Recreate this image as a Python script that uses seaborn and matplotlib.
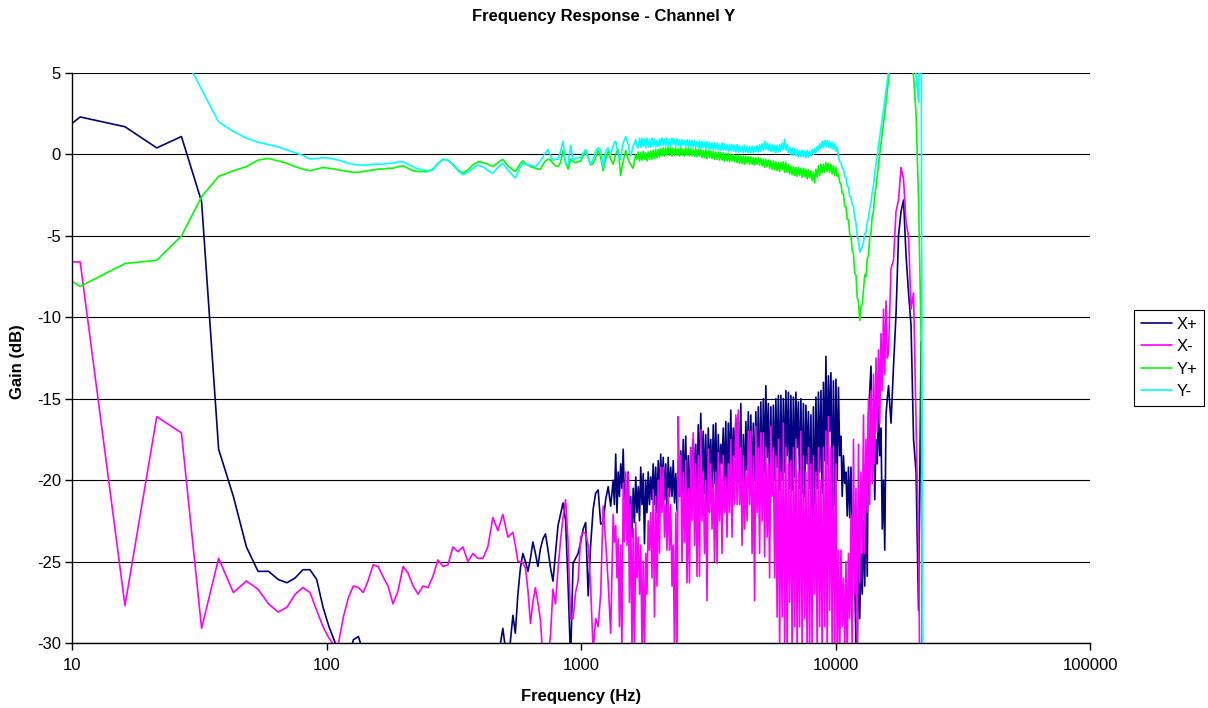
import numpy as np
import pandas as pd
import matplotlib
matplotlib.use("Agg")
import matplotlib.pyplot as plt
import seaborn as sns
from matplotlib.ticker import NullLocator

# ---------------- data ----------------
# frequency samples (Hz)
FREQ_BINS = [5.38, 10.77, 16.15, 21.53, 26.92, 32.30, 37.68, 43.06, 48.45, 53.83,
             59.21, 64.60, 69.98, 75.36, 80.75, 86.13, 91.51, 96.89, 102.28, 107.66]
FREQ_LOW = [111.5, 116.5, 122, 127.5, 133.5, 139.5, 145.5, 152.5, 159.5, 166.5,
            174.5, 182.5, 191, 200, 209, 219, 229, 239.5, 250.5, 262,
            274, 287, 300, 314, 328.5, 343.5, 359.5, 376, 393.5, 411.5,
            430.5, 450.5, 471.5, 493, 516]
FREQ_MID = [540, 552, 565, 578, 591, 605, 619, 633, 647, 662,
            677, 693, 709, 725, 742, 759, 776, 794, 812, 831,
            850, 870, 890, 910, 931, 952, 974, 997, 1020, 1043,
            1067, 1091, 1116, 1142, 1168, 1195, 1222, 1250, 1279, 1308]
FREQ_DENSE = [1338, 1353, 1369, 1385, 1400, 1416, 1432, 1448, 1465, 1482,
              1499, 1516, 1533, 1550, 1568, 1586, 1604, 1622, 1641, 1660,
              1679, 1698, 1717, 1737, 1756, 1776, 1796, 1816, 1837, 1858,
              1879, 1900, 1922, 1944, 1966, 1988, 2011, 2034, 2057, 2080,
              2104, 2128, 2152, 2177, 2201, 2226, 2252, 2278, 2304, 2330,
              2357, 2384, 2411, 2438, 2466, 2494, 2522, 2551, 2580, 2609,
              2639, 2669, 2699, 2730, 2761, 2792, 2824, 2856, 2889, 2922,
              2955, 2989, 3023, 3057, 3092, 3127, 3163, 3199, 3235, 3272,
              3309, 3347, 3385, 3424, 3463, 3502, 3542, 3582, 3623, 3664,
              3706, 3748, 3791, 3834, 3878, 3922, 3967, 4012, 4058, 4104,
              4151, 4198, 4246, 4294, 4343, 4393, 4443, 4494, 4545, 4597,
              4649, 4702, 4755, 4809, 4864, 4919, 4975, 5032, 5089, 5147,
              5206, 5265, 5325, 5386, 5447, 5509, 5572, 5636, 5700, 5765,
              5830, 5896, 5964, 6032, 6100, 6170, 6240, 6311, 6383, 6456,
              6529, 6603, 6679, 6755, 6832, 6910, 6988, 7068, 7148, 7229,
              7312, 7395, 7480, 7565, 7651, 7738, 7826, 7915, 8006, 8097,
              8189, 8282, 8377, 8472, 8569, 8667, 8765, 8865, 8966, 9068,
              9171, 9276, 9381, 9488, 9596, 9705, 9816, 9928, 10041, 10155,
              10271, 10388, 10506, 10626, 10747, 10870, 10993, 11118, 11245, 11373,
              11502, 11633, 11766, 11900, 12035, 12172, 12311, 12451, 12593, 12737,
              12881, 13028, 13176, 13326, 13478, 13632, 13787, 13944, 14103, 14264,
              14426, 14590, 14756, 14924, 15094, 15266, 15440, 15616, 15794, 15974]
FREQ_HIGH = [16156, 16526, 16904, 17291, 17687, 18092, 18507, 18931, 19364, 19808,
             20262, 20726, 21200, 21686, 22050]

# ---- X+ (dB)
XP_BINS = [-1.4, 2.3, 1.7, 0.4, 1.1, -2.9, -18.1, -21.0, -24.1, -25.6,
           -25.6, -26.1, -26.3, -26.0, -25.5, -25.5, -26.1, -27.8, -29.0, -29.9]
XP_LOW = [-31.0, -32.0, -31.0, -29.8, -29.6, -30.6, -32.0, -34.0, -34.0, -34.0,
          -34.0, -34.0, -34.0, -34.0, -34.0, -34.0, -34.0, -34.0, -34.0, -34.0,
          -34.0, -34.0, -34.0, -34.0, -34.0, -34.0, -34.0, -34.0, -34.0, -34.0,
          -34.0, -32.0, -31.0, -29.1, -31.5]
XP_MID = [-28.3, -29.4, -27.0, -25.4, -24.5, -25.0, -25.6, -24.8, -23.8, -24.5,
          -25.3, -24.2, -23.6, -23.3, -24.3, -25.4, -26.2, -24.5, -22.8, -22.1,
          -21.4, -22.5, -26.5, -31.0, -25.1, -24.8, -24.5, -23.8, -23.0, -22.6,
          -27.1, -24.0, -21.8, -20.8, -20.6, -22.7, -22.6, -21.2, -20.4, -21.6]
XP_DENSE = [-20.0, -21.5, -18.4, -22.0, -19.5, -21.0, -19.0, -20.5, -18.1, -21.4,
            -20.6, -21.4, -19.5, -23.7, -21.0, -23.5, -20.5, -22.6, -19.8, -22.0,
            -20.4, -22.5, -19.2, -21.5, -19.6, -23.9, -20.0, -22.0, -19.5, -21.5,
            -19.8, -21.2, -19.0, -21.5, -19.2, -22.0, -18.8, -21.0, -18.4, -20.8,
            -18.6, -21.2, -19.0, -22.3, -18.6, -21.0, -19.2, -21.0, -18.8, -21.4,
            -19.6, -21.9, -18.8, -21.0, -18.2, -20.8, -17.5, -21.0, -17.3, -21.8,
            -18.5, -21.8, -18.0, -20.7, -17.5, -20.5, -17.8, -21.4, -16.6, -20.2,
            -15.9, -19.6, -17.0, -20.8, -17.2, -21.8, -16.8, -19.8, -17.5, -20.5,
            -16.6, -20.2, -16.5, -21.0, -17.2, -20.0, -17.8, -19.0, -16.8, -20.5,
            -16.4, -21.5, -16.5, -19.5, -15.7, -20.0, -16.8, -18.6, -16.2, -20.5,
            -16.0, -21.0, -15.3, -23.3, -17.2, -20.5, -16.4, -19.4, -15.8, -20.5,
            -16.0, -21.4, -16.5, -20.0, -15.8, -19.8, -15.5, -20.8, -15.2, -20.5,
            -15.0, -19.5, -14.2, -18.6, -15.3, -20.5, -15.5, -20.8, -15.4, -20.0,
            -15.0, -19.2, -14.8, -20.6, -14.8, -20.0, -15.0, -19.5, -14.5, -18.5,
            -14.6, -20.5, -14.8, -20.6, -14.9, -19.8, -14.6, -18.0, -15.2, -20.5,
            -15.0, -20.8, -15.3, -21.0, -15.4, -19.0, -15.8, -20.5, -16.0, -23.3,
            -15.5, -22.5, -14.9, -20.5, -14.6, -19.5, -14.5, -20.8, -14.0, -18.8,
            -12.4, -19.0, -13.6, -17.0, -13.4, -21.8, -13.9, -21.5, -13.8, -20.0,
            -14.3, -18.5, -17.3, -21.0, -18.5, -20.2, -19.5, -22.2, -19.2, -22.3,
            -19.2, -22.8, -24.0, -26.0, -30.5, -31.0, -23.5, -28.5, -24.5, -27.0,
            -22.5, -26.5, -20.0, -25.9, -16.0, -14.5, -13.0, -18.5, -16.5, -21.2,
            -17.5, -19.0, -15.5, -18.5, -16.8, -23.0, -20.0, -24.3, -16.0, -15.0]
XP_HIGH = [-14.2, -16.5, -13.0, -9.8, -5.0, -3.5, -2.8, -6.2, -8.5, -10.5,
           -17.5, -19.5, -28.0, -11.5, -40.0]

# ---- X- (dB)
XM_BINS = [-6.6, -6.6, -27.7, -16.1, -17.1, -29.1, -24.8, -26.9, -26.2, -26.7,
           -27.6, -28.1, -27.8, -27.0, -26.6, -26.9, -28.0, -29.0, -29.7, -30.2]
XM_LOW = [-30.0, -28.4, -27.2, -26.5, -26.6, -26.9, -26.2, -25.2, -25.3, -25.9,
          -26.5, -27.6, -26.8, -25.3, -25.7, -26.5, -27.0, -26.5, -26.6, -25.9,
          -24.9, -25.3, -25.2, -24.1, -24.4, -24.1, -25.0, -24.5, -24.8, -24.8,
          -24.1, -22.3, -23.1, -22.1, -23.5]
XM_MID = [-23.2, -24.0, -25.0, -25.0, -25.1, -25.4, -26.8, -28.8, -27.5, -26.6,
          -27.5, -28.6, -31.0, -32.0, -31.0, -29.5, -26.7, -27.6, -25.5, -23.7,
          -22.3, -21.2, -23.9, -28.5, -28.5, -26.9, -26.2, -23.5, -23.2, -23.3,
          -24.0, -26.5, -30.5, -28.5, -29.0, -27.0, -21.6, -23.8, -26.3, -29.4]
XM_DENSE = [-22.1, -23.8, -22.8, -26.0, -23.6, -29.0, -24.0, -30.5, -20.2, -23.8,
            -19.5, -24.0, -19.6, -27.5, -21.5, -30.5, -23.0, -31.0, -22.6, -26.0,
            -23.5, -27.0, -24.0, -30.5, -25.0, -31.0, -24.5, -27.0, -22.5, -24.3,
            -22.0, -26.0, -20.6, -28.4, -21.0, -26.5, -20.0, -24.5, -19.2, -22.0,
            -19.2, -23.5, -21.5, -24.3, -20.5, -24.3, -21.5, -26.5, -24.0, -30.5,
            -22.0, -30.5, -16.1, -21.0, -18.5, -25.0, -19.5, -23.8, -18.8, -26.3,
            -20.5, -26.3, -18.0, -22.5, -17.1, -24.0, -19.0, -25.9, -18.5, -25.9,
            -16.9, -22.5, -19.5, -24.5, -20.0, -27.4, -18.1, -22.0, -19.0, -23.0,
            -20.0, -25.0, -19.5, -25.1, -18.3, -22.5, -19.0, -24.5, -18.5, -22.0,
            -19.8, -23.5, -19.0, -22.0, -17.5, -23.5, -18.5, -21.5, -16.0, -21.5,
            -15.7, -21.5, -18.0, -24.0, -18.5, -23.0, -19.5, -22.5, -17.0, -21.5,
            -17.0, -24.5, -18.5, -27.4, -16.7, -22.0, -18.0, -24.5, -17.1, -22.5,
            -17.1, -24.7, -18.0, -23.5, -19.0, -26.0, -16.7, -21.0, -18.0, -26.0,
            -18.5, -28.4, -17.5, -30.5, -19.5, -28.4, -16.5, -30.5, -18.0, -31.0,
            -19.0, -27.5, -18.8, -31.0, -18.0, -29.0, -17.5, -31.0, -19.5, -29.0,
            -17.0, -31.0, -18.5, -28.5, -19.5, -31.0, -18.0, -30.5, -19.0, -31.0,
            -18.5, -27.0, -19.5, -31.0, -18.0, -29.0, -20.0, -31.0, -18.0, -29.0,
            -17.0, -31.0, -16.1, -28.0, -18.0, -31.0, -17.9, -30.5, -19.0, -31.0,
            -24.3, -31.0, -24.3, -29.0, -26.0, -30.5, -25.0, -31.0, -24.5, -28.5,
            -22.2, -31.0, -17.5, -27.0, -20.5, -30.5, -17.8, -26.3, -19.5, -24.5,
            -16.0, -24.5, -17.5, -22.0, -15.0, -21.5, -14.5, -20.2, -13.5, -19.0,
            -12.5, -17.0, -12.0, -16.5, -11.0, -14.5, -9.5, -13.5, -9.0, -12.5]
XM_HIGH = [-12.2, -7.0, -6.5, -3.5, -2.8, -0.8, -1.5, -4.2, -5.0, -9.5,
           -8.5, -16.5, -24.0, -40.0, -40.0]

# ---- Y+ (dB)
YP_BINS = [-5.3, -8.1, -6.7, -6.5, -5.0, -2.6, -1.35, -1.0, -0.75, -0.35,
           -0.25, -0.4, -0.55, -0.75, -0.9, -1.0, -0.9, -0.8, -0.85, -0.9]
YP_LOW = [-0.95, -1.0, -1.05, -1.1, -1.1, -1.05, -1.0, -0.95, -0.9, -0.9,
          -0.85, -0.85, -0.75, -0.7, -0.85, -1.0, -1.05, -1.05, -1.05, -0.9,
          -0.55, -0.3, -0.35, -0.6, -0.95, -1.15, -0.95, -0.65, -0.45, -0.5,
          -0.6, -0.75, -0.5, -0.3, -0.7]
YP_MID = [-0.95, -1.05, -0.8, -0.55, -0.4, -0.55, -0.65, -0.75, -0.8, -0.85,
          -0.9, -0.9, -0.6, -0.4, -0.3, -0.35, -0.55, -0.7, -0.75, -0.5,
          0.25, -0.5, -0.9, -0.3, -0.45, -0.5, -0.45, -0.4, -0.1, 0.25,
          -0.2, -0.65, -0.55, -0.2, 0.25, -0.2, -1.0, -0.3, 0.2, -0.3]
YP_DENSE = [-0.6, -0.3, 0.0, 0.2, 0.3, -0.5, -1.3, -0.8, -0.4, -0.1,
            0.25, 0.0, -0.3, -0.5, -0.6, -0.75, -0.85, -0.4, 0.0, -0.3,
            0.15, -0.4, 0.1, -0.35, 0.2, -0.3, 0.1, -0.4, 0.15, -0.3,
            0.2, -0.3, 0.25, -0.25, 0.3, -0.2, 0.3, -0.15, 0.35, -0.1,
            0.4, -0.1, 0.4, -0.05, 0.45, -0.05, 0.4, -0.1, 0.4, -0.05,
            0.4, -0.05, 0.35, -0.1, 0.4, -0.05, 0.35, -0.1, 0.4, -0.05,
            0.35, -0.1, 0.35, -0.1, 0.3, -0.1, 0.35, -0.15, 0.3, -0.1,
            0.3, -0.2, 0.25, -0.2, 0.3, -0.25, 0.25, -0.2, 0.2, -0.25,
            0.2, -0.3, 0.15, -0.3, 0.15, -0.35, 0.1, -0.35, 0.1, -0.4,
            0.05, -0.4, 0.05, -0.45, 0.0, -0.4, 0.0, -0.45, -0.05, -0.5,
            -0.05, -0.55, -0.1, -0.55, -0.1, -0.6, -0.1, -0.55, -0.15, -0.6,
            -0.15, -0.6, -0.2, -0.65, -0.2, -0.6, -0.2, -0.65, -0.25, -0.7,
            -0.3, -0.8, -0.3, -0.75, -0.35, -0.85, -0.4, -0.9, -0.4, -0.95,
            -0.45, -1.0, -0.5, -1.05, -0.5, -0.95, -0.45, -1.1, -0.5, -1.1,
            -0.65, -1.2, -0.7, -1.25, -0.75, -1.3, -0.8, -1.35, -0.8, -1.3,
            -0.85, -1.4, -0.85, -1.35, -0.9, -1.5, -0.95, -1.45, -1.0, -1.6,
            -1.1, -1.75, -0.9, -1.4, -0.7, -1.3, -0.6, -1.15, -0.6, -1.1,
            -0.5, -1.05, -0.55, -1.1, -0.6, -1.2, -0.7, -1.3, -0.8, -1.35,
            -1.2, -1.7, -1.8, -2.4, -2.4, -3.2, -3.2, -4.0, -4.0, -4.9,
            -5.0, -5.9, -6.1, -7.3, -7.4, -8.8, -9.0, -10.2, -9.4, -9.2,
            -8.3, -7.4, -7.5, -6.4, -6.2, -5.1, -4.8, -3.8, -3.5, -2.5,
            -2.0, -1.3, -0.6, 0.05, 0.7, 1.3, 1.9, 2.5, 3.2, 3.9]
YP_HIGH = [4.6, 6.0, 7.0, 7.8, 8.2, 8.4, 8.3, 7.9, 7.2, 6.0,
           4.8, 2.5, -2.8, -11.0, -40.0]

# ---- Y- (dB)
YM_BINS = [-3.4, 6.0, 7.5, 7.5, 6.35, 4.0, 2.0, 1.4, 1.0, 0.75,
           0.6, 0.47, 0.27, 0.1, -0.06, -0.28, -0.25, -0.2, -0.22, -0.3]
YM_LOW = [-0.35, -0.45, -0.55, -0.6, -0.65, -0.65, -0.65, -0.6, -0.6, -0.6,
          -0.55, -0.55, -0.45, -0.45, -0.6, -0.75, -0.9, -0.95, -1.0, -0.95,
          -0.55, -0.3, -0.35, -0.65, -1.0, -1.25, -1.1, -0.85, -0.65, -0.75,
          -1.0, -1.15, -0.8, -0.55, -0.95]
YM_MID = [-1.3, -1.45, -1.1, -0.75, -0.55, -0.6, -0.65, -0.65, -0.7, -0.75,
          -0.6, -0.4, -0.15, 0.1, 0.3, -0.1, -0.35, -0.3, -0.3, 0.2,
          0.8, -0.6, -0.6, 0.55, -0.35, -0.25, -0.2, -0.2, 0.1, 0.3,
          -0.2, -0.6, -0.3, 0.2, 0.4, 0.3, -0.8, 0.2, 0.4, 0.0]
YM_DENSE = [0.5, 0.75, 0.8, 0.4, 0.0, -0.2, -0.3, 0.3, 0.7, 0.9,
            1.1, 0.85, 0.6, 0.2, -0.1, 0.2, 0.5, 0.7, 0.9, 0.5,
            0.4, 1.0, 0.45, 1.0, 0.5, 0.95, 0.4, 1.0, 0.45, 0.9,
            0.45, 1.0, 0.5, 0.95, 0.45, 0.85, 0.5, 0.95, 0.55, 1.0,
            0.55, 0.95, 0.5, 1.0, 0.55, 0.95, 0.5, 1.0, 0.6, 0.95,
            0.5, 0.95, 0.55, 0.9, 0.5, 0.9, 0.55, 0.85, 0.5, 0.9,
            0.45, 0.9, 0.5, 0.85, 0.45, 0.85, 0.45, 0.8, 0.4, 0.85,
            0.4, 0.8, 0.4, 0.75, 0.35, 0.8, 0.35, 0.75, 0.35, 0.7,
            0.3, 0.7, 0.3, 0.7, 0.3, 0.65, 0.25, 0.7, 0.25, 0.65,
            0.25, 0.6, 0.2, 0.6, 0.25, 0.6, 0.2, 0.55, 0.15, 0.6,
            0.15, 0.55, 0.15, 0.5, 0.1, 0.55, 0.15, 0.5, 0.1, 0.5,
            0.1, 0.5, 0.1, 0.45, 0.15, 0.55, 0.15, 0.6, 0.2, 0.65,
            0.25, 0.8, 0.3, 0.7, 0.25, 0.65, 0.2, 0.6, 0.15, 0.55,
            0.1, 0.55, 0.15, 0.6, 0.2, 0.7, 0.3, 0.95, 0.25, 0.6,
            0.1, 0.45, 0.0, 0.4, -0.05, 0.35, -0.1, 0.3, -0.15, 0.25,
            -0.15, 0.25, -0.15, 0.2, -0.2, 0.25, -0.15, 0.2, -0.1, 0.3,
            0.0, 0.35, 0.1, 0.5, 0.25, 0.65, 0.35, 0.8, 0.4, 0.85,
            0.45, 0.85, 0.45, 0.8, 0.4, 0.75, 0.3, 0.65, 0.2, 0.45,
            -0.1, -0.45, -0.5, -0.85, -0.9, -1.35, -1.4, -1.95, -2.0, -2.6,
            -2.6, -3.1, -3.2, -3.9, -4.2, -5.0, -5.3, -6.0, -5.8, -5.7,
            -5.4, -4.9, -4.8, -4.2, -3.9, -3.3, -3.0, -2.3, -1.9, -1.1,
            -0.6, -0.05, 0.5, 1.05, 1.6, 2.15, 2.7, 3.3, 3.9, 4.5]
YM_HIGH = [5.1, 6.5, 7.5, 8.2, 8.6, 8.8, 8.8, 8.5, 8.0, 7.3,
           6.2, 4.9, 3.2, 12.0, -40.0]

SERIES = ["X+", "X-", "Y+", "Y-"]
COLORS = ["#000080", "#FF00FF", "#00FF00", "#00FFFF"]
X_TICKS = [10, 100, 1000, 10000, 100000]
X_TICK_LABELS = ["10", "100", "1000", "10000", "100000"]
Y_TICKS = [-30, -25, -20, -15, -10, -5, 0, 5]

# ---------------- build long table ----------------
freq = FREQ_BINS + FREQ_LOW + FREQ_MID + FREQ_DENSE + FREQ_HIGH
values = {
    "X+": XP_BINS + XP_LOW + XP_MID + XP_DENSE + XP_HIGH,
    "X-": XM_BINS + XM_LOW + XM_MID + XM_DENSE + XM_HIGH,
    "Y+": YP_BINS + YP_LOW + YP_MID + YP_DENSE + YP_HIGH,
    "Y-": YM_BINS + YM_LOW + YM_MID + YM_DENSE + YM_HIGH,
}
for k, v in values.items():
    assert len(v) == len(freq), (k, len(v), len(freq))

df = pd.concat(
    [pd.DataFrame({"Frequency": freq, "Gain": values[s], "Series": s}) for s in SERIES],
    ignore_index=True,
)

# ---------------- plot ----------------
sns.set_style("white")
plt.rcParams["font.family"] = ["Liberation Sans", "DejaVu Sans"]
plt.rcParams["axes.unicode_minus"] = False
for key in ["text.color", "axes.labelcolor", "xtick.color", "ytick.color"]:
    plt.rcParams[key] = "black"

fig = plt.figure(figsize=(12.08, 7.08), dpi=100)
ax = fig.add_axes([72 / 1208, 65 / 708, 1018 / 1208, 570 / 708])

sns.lineplot(
    data=df, x="Frequency", y="Gain", hue="Series", hue_order=SERIES,
    palette=COLORS, estimator=None, sort=False, linewidth=1.2, ax=ax,
)

ax.set_xscale("log")
ax.set_xlim(10, 100000)
ax.set_ylim(-30, 5)
ax.set_xticks(X_TICKS)
ax.set_xticklabels(X_TICK_LABELS)
ax.xaxis.set_minor_locator(NullLocator())
ax.set_yticks(Y_TICKS)
ax.set_yticklabels([str(t) for t in Y_TICKS])

ax.grid(axis="y", color="black", linewidth=0.8)
ax.grid(axis="x", visible=False)
ax.set_axisbelow(True)
for side in ["top", "right"]:
    ax.spines[side].set_visible(False)
for side in ["left", "bottom"]:
    ax.spines[side].set_color("black")
    ax.spines[side].set_linewidth(1.0)

ax.tick_params(axis="y", direction="out", length=5, width=1, color="black",
               labelcolor="black", labelsize=12, pad=3, left=True)
ax.tick_params(axis="x", direction="out", length=5, width=1, color="black",
               labelcolor="black", labelsize=12, pad=6, bottom=True)
ax.set_xlabel("")
ax.set_ylabel("")

fig.text(0.5, 1 - 16 / 708, "Frequency Response - Channel Y", ha="center", va="center",
         fontsize=12, fontweight="bold", color="black")
fig.text(581 / 1208, 1 - 696 / 708, "Frequency (Hz)", ha="center", va="center",
         fontsize=12, fontweight="bold", color="black")
fig.text(18 / 1208, 1 - 362 / 708, "Gain (dB)", ha="center", va="center",
         rotation=90, fontsize=12, fontweight="bold", color="black")

handles, labels = ax.get_legend_handles_labels()
leg = ax.legend(handles, labels, loc="center left",
                bbox_to_anchor=(1134 / 1208, 1 - 358 / 708), bbox_transform=fig.transFigure,
                frameon=True, fancybox=False, framealpha=1, edgecolor="black",
                fontsize=12, handlelength=1.9, handletextpad=0.25, borderpad=0.4,
                labelspacing=0.45, borderaxespad=0)
leg.get_frame().set_linewidth(0.8)
for text in leg.get_texts():
    text.set_color("black")
for line in leg.get_lines():
    line.set_linewidth(1.2)

fig.savefig("out.png", dpi=100)
